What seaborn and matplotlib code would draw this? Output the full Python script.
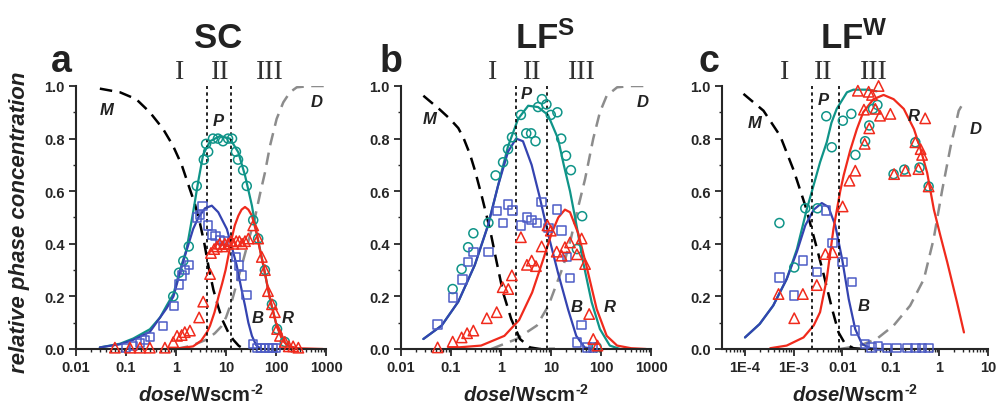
import matplotlib
matplotlib.use("Agg")
import matplotlib.pyplot as plt
import seaborn as sns
from matplotlib.ticker import FixedLocator, FixedFormatter, LogLocator, MultipleLocator, NullFormatter

# ---------------- panel a : SC ----------------
sc_M_x = [0.03, 0.076, 0.16, 0.3, 0.55, 0.87, 1.3, 1.8, 2.4, 3.0, 3.7, 4.5, 5.6, 7, 8.5, 11, 14, 18, 23]
sc_M_y = [0.99, 0.976, 0.95, 0.90, 0.837, 0.773, 0.70, 0.62, 0.55, 0.48, 0.40, 0.31, 0.225, 0.16, 0.11, 0.065, 0.035, 0.012, 0.0]
sc_D_x = [1.0, 2.0, 4.0, 6, 8, 10, 13, 17, 22, 29, 38, 48, 60, 76, 103, 140, 190, 260, 500, 950]
sc_D_y = [0.0, 0.012, 0.035, 0.06, 0.085, 0.12, 0.18, 0.26, 0.336, 0.42, 0.50, 0.59, 0.67, 0.773, 0.875, 0.938, 0.976, 0.995, 1.0, 1.0]
sc_P_x = [0.03, 0.076, 0.14, 0.3, 0.48, 0.65, 0.89, 1.2, 1.63, 2.2, 2.8, 3.5, 4.8, 7.6, 12, 17.6, 24, 33, 41, 56, 76, 103, 141, 190, 300]
sc_P_y = [0.006, 0.02, 0.04, 0.075, 0.12, 0.165, 0.21, 0.30, 0.38, 0.52, 0.64, 0.74, 0.79, 0.81, 0.80, 0.748, 0.66, 0.545, 0.44, 0.317, 0.19, 0.089, 0.03, 0.008, 0.0]
sc_B_x = [0.03, 0.076, 0.14, 0.3, 0.65, 0.89, 1.2, 1.6, 2.2, 2.8, 3.8, 5.2, 7.0, 10.4, 13, 16.4, 20, 24, 28, 33, 40, 50]
sc_B_y = [0.006, 0.018, 0.035, 0.065, 0.155, 0.2, 0.29, 0.37, 0.456, 0.50, 0.535, 0.545, 0.52, 0.456, 0.39, 0.317, 0.235, 0.165, 0.10, 0.05, 0.015, 0.0]
sc_R_x = [0.65, 1.3, 2.2, 3.2, 4.2, 4.8, 5.9, 7.1, 8.4, 9.8, 11.3, 13, 15, 17.7, 20.5, 24, 28, 33, 41, 48, 56, 76, 103, 130, 163, 260, 870]
sc_R_y = [0.0, 0.004, 0.01, 0.032, 0.065, 0.089, 0.14, 0.20, 0.25, 0.30, 0.36, 0.42, 0.47, 0.507, 0.53, 0.54, 0.53, 0.507, 0.44, 0.375, 0.317, 0.19, 0.089, 0.04, 0.015, 0.003, 0.0]

sc_circ_x = [0.88, 1.15, 1.4, 1.8, 2.6, 3.6, 4.0, 4.4, 5.5, 6.9, 8.7, 11, 13.2, 15.8, 17.4, 22, 26, 35, 44, 60, 83, 105, 150]
sc_circ_y = [0.20, 0.29, 0.335, 0.39, 0.62, 0.72, 0.78, 0.75, 0.80, 0.80, 0.79, 0.80, 0.80, 0.75, 0.72, 0.68, 0.62, 0.49, 0.42, 0.30, 0.17, 0.076, 0.027]
sc_sq_x = [0.1, 0.14, 0.19, 0.24, 0.3, 0.55, 0.9, 1.15, 1.3, 1.5, 1.8, 2.6, 3.0, 3.4, 4.3, 5.2, 6.2, 7.5, 9, 16, 18, 20.5, 25.7, 35, 42, 50, 60, 72, 85, 100]
sc_sq_y = [0.005, 0.012, 0.022, 0.035, 0.045, 0.087, 0.163, 0.245, 0.28, 0.30, 0.32, 0.50, 0.51, 0.543, 0.47, 0.435, 0.43, 0.415, 0.41, 0.35, 0.317, 0.28, 0.206, 0.019, 0.003, 0.003, 0.003, 0.003, 0.003, 0.003]
sc_tri_x = [0.06, 0.12, 0.19, 0.3, 0.6, 0.88, 1.05, 1.3, 1.5, 1.9, 2.9, 3.5, 4.8, 5.0, 5.8, 6.6, 7.5, 8.5, 9.5, 11, 12.5, 14, 16, 18.5, 21, 24, 28, 35, 44, 52, 60, 69, 83, 95, 105, 120, 150, 180, 220, 280]
sc_tri_y = [0.005, 0.005, 0.005, 0.005, 0.005, 0.026, 0.05, 0.053, 0.064, 0.07, 0.12, 0.18, 0.285, 0.365, 0.38, 0.39, 0.40, 0.39, 0.40, 0.40, 0.41, 0.40, 0.41, 0.41, 0.40, 0.41, 0.42, 0.47, 0.42, 0.35, 0.30, 0.22, 0.17, 0.14, 0.076, 0.05, 0.027, 0.01, 0.01, 0.005]

# ---------------- panel b : LF^S ----------------
lfs_M_x = [0.028, 0.06, 0.095, 0.14, 0.18, 0.24, 0.3, 0.41, 0.6, 0.82, 1.1, 1.6, 2.4, 3.8, 6, 12]
lfs_M_y = [0.963, 0.91, 0.875, 0.84, 0.80, 0.74, 0.68, 0.583, 0.456, 0.33, 0.215, 0.114, 0.038, 0.006, 0.0, 0.0]
lfs_D_x = [0.64, 2.05, 5.2, 8.9, 12.5, 17.7, 25, 33, 48, 70, 95, 130, 210, 400, 760]
lfs_D_y = [0.0, 0.038, 0.089, 0.165, 0.24, 0.317, 0.42, 0.52, 0.646, 0.80, 0.90, 0.963, 0.995, 1.0, 1.0]
lfs_P_x = [0.028, 0.065, 0.14, 0.3, 0.55, 0.87, 1.38, 2.2, 3.5, 5.5, 8.7, 13.8, 18, 24, 31, 44, 65, 95, 150, 240]
lfs_P_y = [0.038, 0.089, 0.18, 0.32, 0.47, 0.62, 0.77, 0.875, 0.925, 0.92, 0.89, 0.80, 0.70, 0.60, 0.49, 0.33, 0.178, 0.076, 0.013, 0.0]
lfs_B_x = [0.028, 0.065, 0.14, 0.3, 0.55, 0.87, 1.38, 2.0, 2.75, 4.1, 5.9, 8.7, 13.8, 22, 32, 47, 74]
lfs_B_y = [0.038, 0.089, 0.18, 0.32, 0.47, 0.62, 0.75, 0.80, 0.79, 0.70, 0.58, 0.44, 0.29, 0.15, 0.05, 0.006, 0.0]
lfs_R_x = [0.087, 0.4, 1.17, 2.3, 4.2, 6.7, 10.3, 14, 19, 24, 35, 51, 82, 130, 210, 400, 800]
lfs_R_y = [0.003, 0.013, 0.05, 0.11, 0.215, 0.33, 0.44, 0.50, 0.53, 0.52, 0.44, 0.317, 0.152, 0.05, 0.013, 0.003, 0.0]

lfs_circ_x = [0.108, 0.163, 0.22, 0.28, 0.56, 0.78, 1.1, 1.38, 1.66, 2.5, 3.2, 4.0, 4.9, 5.5, 6.6, 8.1, 9.9, 13.4, 16, 20, 25, 33, 42, 82]
lfs_circ_y = [0.228, 0.304, 0.387, 0.44, 0.48, 0.66, 0.71, 0.76, 0.805, 0.89, 0.82, 0.82, 0.79, 0.92, 0.95, 0.93, 0.89, 0.90, 0.80, 0.735, 0.68, 0.38, 0.505, 0.007]
lfs_sq_x = [0.054, 0.11, 0.17, 0.22, 0.28, 0.56, 0.82, 1.08, 1.4, 1.7, 2.5, 3.3, 4.1, 5.2, 6.5, 8.9, 13, 16.3, 20.6, 24, 33, 41, 52, 70]
lfs_sq_y = [0.093, 0.196, 0.264, 0.332, 0.37, 0.37, 0.525, 0.48, 0.55, 0.526, 0.47, 0.50, 0.49, 0.48, 0.56, 0.46, 0.53, 0.45, 0.35, 0.27, 0.025, 0.09, 0.006, 0.006]
lfs_tri_x = [0.054, 0.108, 0.163, 0.21, 0.28, 0.52, 0.82, 1.08, 1.4, 1.65, 2.5, 3.3, 4.1, 5.0, 6.5, 8.5, 9.9, 13, 16.3, 19, 24, 33, 41, 48, 58, 70, 85]
lfs_tri_y = [0.006, 0.028, 0.044, 0.06, 0.07, 0.117, 0.14, 0.235, 0.228, 0.28, 0.425, 0.32, 0.336, 0.315, 0.39, 0.47, 0.45, 0.37, 0.355, 0.387, 0.405, 0.36, 0.42, 0.323, 0.133, 0.038, 0.013]

# ---------------- panel c : LF^W ----------------
lfw_M_x = [9.3e-5, 2.4e-4, 5.3e-4, 1e-3, 1.74e-3, 2.8e-3, 4.2e-3, 6.2e-3, 8.4e-3, 0.0115, 0.017, 0.0275]
lfw_M_y = [0.97, 0.906, 0.81, 0.68, 0.545, 0.405, 0.28, 0.152, 0.063, 0.019, 0.003, 0.0]
lfw_D_x = [9.1e-3, 0.023, 0.051, 0.114, 0.25, 0.48, 0.76, 1.13, 1.7, 2.5, 3.2]
lfw_D_y = [0.0, 0.013, 0.038, 0.089, 0.165, 0.266, 0.418, 0.60, 0.77, 0.906, 0.94]
lfw_P_x = [1e-4, 2e-4, 3.8e-4, 7.2e-4, 1.17e-3, 1.86e-3, 2.8e-3, 3.5e-3, 4.8e-3, 6.0e-3, 7.7e-3, 0.0125, 0.017, 0.032, 0.051]
lfw_P_y = [0.044, 0.095, 0.165, 0.266, 0.38, 0.53, 0.646, 0.71, 0.786, 0.86, 0.913, 0.976, 0.986, 0.986, 0.98]
lfw_B_x = [1e-4, 2e-4, 3.8e-4, 7.2e-4, 1.17e-3, 1.74e-3, 2.6e-3, 3.8e-3, 5.2e-3, 7.2e-3, 0.01, 0.0136, 0.0185, 0.0255, 0.038, 0.06]
lfw_B_y = [0.044, 0.095, 0.165, 0.266, 0.37, 0.47, 0.53, 0.555, 0.54, 0.47, 0.34, 0.19, 0.076, 0.019, 0.003, 0.0]
lfw_R_x = [3.3e-4, 7.2e-4, 1.6e-3, 2.6e-3, 3.5e-3, 4.8e-3, 6.6e-3, 9.1e-3, 0.0107, 0.0146, 0.02, 0.027, 0.044, 0.071, 0.114, 0.185, 0.3, 0.41, 0.56, 0.77, 1.05, 1.45, 2.3, 3.2]
lfw_R_y = [0.003, 0.013, 0.044, 0.09, 0.14, 0.266, 0.456, 0.60, 0.66, 0.755, 0.836, 0.90, 0.95, 0.966, 0.95, 0.913, 0.836, 0.76, 0.67, 0.53, 0.43, 0.33, 0.178, 0.063]

lfw_circ_x = [5.1e-4, 1.03e-3, 1.74e-3, 3.1e-3, 4.7e-3, 6.1e-3, 0.0103, 0.0154, 0.0187, 0.0296, 0.036, 0.043, 0.053, 0.114, 0.19, 0.32, 0.39, 0.6]
lfw_circ_y = [0.479, 0.31, 0.535, 0.535, 0.885, 0.767, 0.868, 0.894, 0.738, 0.79, 0.85, 0.913, 0.928, 0.665, 0.682, 0.786, 0.69, 0.618]
lfw_sq_x = [5.1e-4, 1.03e-3, 1.55e-3, 3.0e-3, 4.7e-3, 6.3e-3, 0.0102, 0.0158, 0.0186, 0.0296, 0.04, 0.055, 0.084, 0.13, 0.22, 0.32, 0.44, 0.6]
lfw_sq_y = [0.272, 0.203, 0.336, 0.294, 0.526, 0.403, 0.332, 0.256, 0.07, 0.019, 0.006, 0.012, 0.003, 0.003, 0.003, 0.003, 0.003, 0.003]
lfw_tri_x = [4.9e-4, 1.03e-3, 1.55e-3, 3.0e-3, 4.5e-3, 6.3e-3, 0.0102, 0.0141, 0.0186, 0.021, 0.028, 0.029, 0.035, 0.036, 0.041, 0.048, 0.056, 0.06, 0.098, 0.117, 0.2, 0.32, 0.37, 0.41, 0.44, 0.51, 0.6]
lfw_tri_y = [0.209, 0.117, 0.209, 0.243, 0.361, 0.368, 0.542, 0.64, 0.678, 0.982, 0.91, 0.78, 0.978, 0.839, 0.966, 0.913, 1.0, 0.887, 0.894, 0.665, 0.678, 0.786, 0.684, 0.76, 0.738, 0.877, 0.618]

# axis settings per panel
sc_xlim = (0.01, 1000)
lfw_xlim = (3.36e-5, 10)
sc_xticks = [0.01, 0.1, 1, 10, 100, 1000]
sc_xticklabels = ["0.01", "0.1", "1", "10", "100", "1000"]
lfw_xticks = [1e-4, 1e-3, 0.01, 0.1, 1, 10]
lfw_xticklabels = ["1E-4", "1E-3", "0.01", "0.1", "1", "10"]

sc_regions = [1.2, 7.6, 76]
lfs_regions = [0.69, 4.2, 42]
lfw_regions = [6.6e-4, 4.1e-3, 0.044]
sc_vlines = [4.2, 12.6]
lfs_vlines = [2.0, 8.3]
lfw_vlines = [2.4e-3, 8.7e-3]

# curve label positions (x, y)
sc_labels = {"M": (0.041, 0.91), "P": (7.0, 0.87), "D": (650, 0.94), "B": (44, 0.12), "R": (174, 0.12)}
lfs_labels = {"M": (0.037, 0.877), "P": (3.2, 0.97), "D": (690, 0.94), "B": (32, 0.16), "R": (150, 0.16)}
lfw_labels = {"M": (1.6e-4, 0.862), "P": (4.1e-3, 0.95), "D": (5.5, 0.84), "B": (0.028, 0.165), "R": (0.3, 0.887)}

TEAL = "#0f9488"
BLUE = "#3443b0"
RED = "#f02a1c"
SQ_BLUE = "#4d5cc6"
GRAY = "#8c8c8c"

sns.set_style("ticks")
plt.rcParams["font.family"] = ["Liberation Sans", "DejaVu Sans"]
plt.rcParams["font.weight"] = "bold"
plt.rcParams["mathtext.fontset"] = "custom"
plt.rcParams["mathtext.rm"] = "Liberation Sans:bold"
plt.rcParams["mathtext.it"] = "Liberation Sans:bold:italic"
plt.rcParams["mathtext.bf"] = "Liberation Sans:bold"

fig = plt.figure(figsize=(9.96, 4.06), dpi=100)
bottom = 1 - 350 / 406
height = 263 / 406
ax_a = fig.add_axes([76 / 996, bottom, 250 / 996, height])
ax_b = fig.add_axes([401 / 996, bottom, 250 / 996, height])
ax_c = fig.add_axes([722 / 996, bottom, 266 / 996, height])


def draw(ax, M, D, P, B, R, circ, sq, tri, xlim, ticks, ticklabels, regions, vlines, labels):
    ax.set_xscale("log")
    sns.lineplot(x=D[0], y=D[1], ax=ax, color=GRAY, linewidth=1.8, linestyle=(0, (5, 3)), sort=False, estimator=None)
    sns.lineplot(x=M[0], y=M[1], ax=ax, color="black", linewidth=1.8, linestyle=(0, (5, 3)), sort=False, estimator=None)
    sns.lineplot(x=P[0], y=P[1], ax=ax, color=TEAL, linewidth=1.6, sort=False, estimator=None)
    sns.lineplot(x=B[0], y=B[1], ax=ax, color=BLUE, linewidth=1.6, sort=False, estimator=None)
    sns.lineplot(x=R[0], y=R[1], ax=ax, color=RED, linewidth=1.6, sort=False, estimator=None)
    sns.scatterplot(x=circ[0], y=circ[1], ax=ax, marker="o", s=42, color=TEAL,
                    facecolor="none", edgecolor=TEAL, linewidth=1.1, clip_on=False, zorder=3)
    sns.scatterplot(x=sq[0], y=sq[1], ax=ax, marker="s", s=36, color=SQ_BLUE,
                    facecolor="none", edgecolor=SQ_BLUE, linewidth=1.1, clip_on=False, zorder=3)
    sns.scatterplot(x=tri[0], y=tri[1], ax=ax, marker="^", s=56, color=RED,
                    facecolor="none", edgecolor=RED, linewidth=1.1, clip_on=False, zorder=4)
    ax.vlines(vlines, 0, 1, colors="black", linestyles=(0, (2, 2)), linewidth=1.2)

    ax.set_xlim(*xlim)
    ax.set_ylim(0, 1.0)
    ax.xaxis.set_major_locator(FixedLocator(ticks))
    ax.xaxis.set_major_formatter(FixedFormatter(ticklabels))
    ax.xaxis.set_minor_locator(LogLocator(base=10, subs=range(2, 10), numticks=20))
    ax.xaxis.set_minor_formatter(NullFormatter())
    ax.yaxis.set_major_locator(MultipleLocator(0.2))
    ax.yaxis.set_minor_locator(MultipleLocator(0.1))
    ax.yaxis.set_major_formatter(plt.FuncFormatter(lambda v, p: f"{v:.1f}"))
    ax.tick_params(which="major", length=5, width=1.3, labelsize=10.5, pad=3)
    ax.tick_params(which="minor", length=2.5, width=1.0)
    for lab in ax.get_xticklabels() + ax.get_yticklabels():
        lab.set_fontweight("bold")
    for s in ["left", "bottom"]:
        ax.spines[s].set_linewidth(1.5)
    sns.despine(ax=ax)
    ax.set_xlabel("")
    ax.set_ylabel("")

    for x, numeral in zip(regions, ["I", "II", "III"]):
        ax.text(x, 1.057, numeral, transform=ax.get_xaxis_transform(), ha="center", va="center",
                family="Liberation Serif", fontweight="normal", fontsize=20, color="#333333")
    for name, (x, y) in labels.items():
        ax.text(x, y, name, ha="center", va="center", fontsize=12, fontweight="bold",
                fontstyle="italic", color="#222222")
    ax.text(0.5, -0.17, "$\\mathit{dose}$/Wscm$^{\u2010 2}$", transform=ax.transAxes,
            ha="center", va="center", fontsize=14.5, fontweight="bold", color="#222222")


draw(ax_a, (sc_M_x, sc_M_y), (sc_D_x, sc_D_y), (sc_P_x, sc_P_y), (sc_B_x, sc_B_y), (sc_R_x, sc_R_y),
     (sc_circ_x, sc_circ_y), (sc_sq_x, sc_sq_y), (sc_tri_x, sc_tri_y),
     sc_xlim, sc_xticks, sc_xticklabels, sc_regions, sc_vlines, sc_labels)
draw(ax_b, (lfs_M_x, lfs_M_y), (lfs_D_x, lfs_D_y), (lfs_P_x, lfs_P_y), (lfs_B_x, lfs_B_y), (lfs_R_x, lfs_R_y),
     (lfs_circ_x, lfs_circ_y), (lfs_sq_x, lfs_sq_y), (lfs_tri_x, lfs_tri_y),
     sc_xlim, sc_xticks, sc_xticklabels, lfs_regions, lfs_vlines, lfs_labels)
draw(ax_c, (lfw_M_x, lfw_M_y), (lfw_D_x, lfw_D_y), (lfw_P_x, lfw_P_y), (lfw_B_x, lfw_B_y), (lfw_R_x, lfw_R_y),
     (lfw_circ_x, lfw_circ_y), (lfw_sq_x, lfw_sq_y), (lfw_tri_x, lfw_tri_y),
     lfw_xlim, lfw_xticks, lfw_xticklabels, lfw_regions, lfw_vlines, lfw_labels)

# titles and panel letters
fig.text(218 / 996, 1 - 39 / 406, "SC", ha="center", va="center", fontsize=25, fontweight="bold", color="#222222")
fig.text(545 / 996, 1 - 39 / 406, r"LF$^{\mathrm{S}}$", ha="center", va="center", fontsize=25, fontweight="bold", color="#222222")
fig.text(854 / 996, 1 - 39 / 406, r"LF$^{\mathrm{W}}$", ha="center", va="center", fontsize=25, fontweight="bold", color="#222222")
for xp, letter in [(61, "a"), (391, "b"), (709, "c")]:
    fig.text(xp / 996, 1 - 72 / 406, letter, ha="center", va="baseline", fontsize=27, fontweight="bold", color="#222222")

fig.text(20 / 996, 1 - 222 / 406, "relative phase concentration", rotation=90, ha="center", va="center",
         fontsize=16, fontweight="bold", fontstyle="italic", color="#222222")

fig.savefig("out.png", dpi=100)
